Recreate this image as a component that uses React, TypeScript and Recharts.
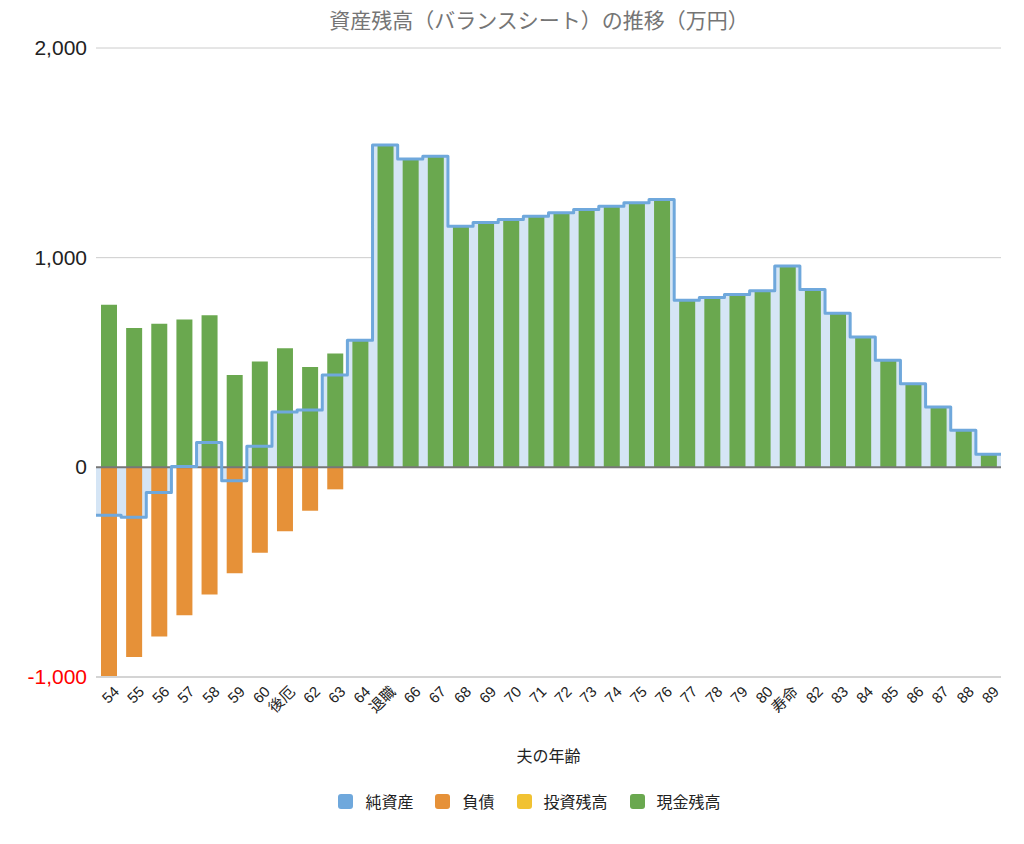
import {
  ComposedChart,
  Bar,
  Area,
  Line,
  XAxis,
  YAxis,
  CartesianGrid,
  ReferenceLine,
  Legend,
} from "recharts";

// 夫の年齢（ラベル）
const ageLabels = [
  "54", "55", "56", "57", "58", "59", "60", "後厄", "62", "63", "64", "退職",
  "66", "67", "68", "69", "70", "71", "72", "73", "74", "75", "76", "77",
  "78", "79", "80", "寿命", "82", "83", "84", "85", "86", "87", "88", "89",
];

// 現金残高（万円）
const cashBalance = [
  775, 665, 685, 705, 725, 440, 505, 568, 478, 543, 606, 1537,
  1470, 1484, 1150, 1168, 1182, 1198, 1214, 1230, 1245, 1262, 1278, 797,
  810, 824, 842, 960, 848, 735, 622, 511, 399, 288, 177, 62,
];

// 負債（万円）
const debtBalance = [
  -1000, -905, -807, -705, -607, -505, -407, -305, -207, -105, 0, 0,
  0, 0, 0, 0, 0, 0, 0, 0, 0, 0, 0, 0,
  0, 0, 0, 0, 0, 0, 0, 0, 0, 0, 0, 0,
];

// 投資残高（万円）
const investBalance = [
  0, 0, 0, 0, 0, 0, 0, 0, 0, 0, 0, 0,
  0, 0, 0, 0, 0, 0, 0, 0, 0, 0, 0, 0,
  0, 0, 0, 0, 0, 0, 0, 0, 0, 0, 0, 0,
];

// 純資産（万円）
const netAssets = [
  -228, -238, -120, 4, 118, -64, 100, 264, 274, 440, 606, 1537,
  1470, 1484, 1150, 1168, 1182, 1198, 1214, 1230, 1245, 1262, 1278, 797,
  810, 824, 842, 960, 848, 735, 622, 511, 399, 288, 177, 62,
];

const yTicks = [-1000, 0, 1000, 2000];

const COLORS = {
  net: "#6fa8dc",
  netFill: "#d5e5f5",
  debt: "#e69138",
  invest: "#f1c232",
  cash: "#6aa84f",
};

const legendItems = [
  { name: "純資産", color: COLORS.net },
  { name: "負債", color: COLORS.debt },
  { name: "投資残高", color: COLORS.invest },
  { name: "現金残高", color: COLORS.cash },
];

const rows = ageLabels.map((age, i) => ({
  age,
  debt: debtBalance[i],
  invest: investBalance[i],
  cash: cashBalance[i],
}));

// 階段線は各年のバンド全体に広がるので、数値軸上の位置 0..36 に置く
const stepRows = netAssets
  .map((net, i) => ({ pos: i, net }))
  .concat([{ pos: netAssets.length, net: netAssets[netAssets.length - 1] }]);

const FONT = "'Liberation Sans', Arial, 'Noto Sans CJK JP', sans-serif";
const JP_FONT = "'Noto Sans CJK JP', 'Liberation Sans', sans-serif";

function YTick({ x, y, payload }: any) {
  const v = payload.value as number;
  return (
    <text
      x={x - 1}
      y={y}
      dy={7}
      textAnchor="end"
      fontSize={21}
      fontFamily={FONT}
      fill={v < 0 ? "#ff0000" : "#222"}
    >
      {v.toLocaleString("en-US")}
    </text>
  );
}

function AgeTick({ x, y, payload }: any) {
  return (
    <g transform={`translate(${x + 8},${y + 4})`}>
      <text
        x={0}
        y={0}
        dy={5}
        textAnchor="end"
        transform="rotate(-45)"
        fontSize={15}
        fontFamily={FONT}
        fill="#222"
      >
        {payload.value}
      </text>
    </g>
  );
}

function LegendContent() {
  return (
    <div
      style={{
        display: "flex",
        justifyContent: "center",
        alignItems: "center",
        height: 24,
        paddingLeft: 35,
        fontFamily: JP_FONT,
        fontSize: 16,
        color: "#222",
      }}
    >
      {legendItems.map((it) => (
        <div key={it.name} style={{ display: "flex", alignItems: "center", margin: "0 11px" }}>
          <span
            style={{
              width: 15,
              height: 15,
              borderRadius: 3,
              background: it.color,
              marginRight: 12,
              display: "inline-block",
            }}
          />
          <span>{it.name}</span>
        </div>
      ))}
    </div>
  );
}

export default function App() {
  return (
    <div style={{ position: "absolute", left: 0, top: 0, width: 1024, height: 844, background: "#fff" }}>
      <div
        style={{
          position: "absolute",
          top: 4,
          left: 0,
          width: 1024,
          paddingLeft: 54,
          boxSizing: "border-box",
          textAlign: "center",
          fontFamily: JP_FONT,
          fontSize: 21,
          color: "#757575",
          zIndex: 1,
        }}
      >
        資産残高（バランスシート）の推移（万円）
      </div>
      <ComposedChart
        width={1024}
        height={844}
        data={rows}
        stackOffset="sign"
        margin={{ top: 48, right: 23, left: 0, bottom: 31 }}
      >
        <CartesianGrid vertical={false} stroke="#cccccc" />
        <XAxis
          dataKey="age"
          interval={0}
          height={112}
          tick={<AgeTick />}
          tickLine={false}
          axisLine={{ stroke: "#d4d4d4", strokeWidth: 2 }}
          label={{
            value: "夫の年齢",
            position: "insideBottom",
            offset: 27,
            fontSize: 16,
            fontFamily: JP_FONT,
            fill: "#222",
          }}
        />
        <XAxis xAxisId="step" type="number" dataKey="pos" domain={[0, 36]} hide allowDataOverflow />
        <YAxis
          width={96}
          domain={[-1000, 2000]}
          ticks={yTicks}
          tick={<YTick />}
          axisLine={false}
          tickLine={false}
        />
        <Area
          xAxisId="step"
          data={stepRows}
          dataKey="net"
          type="stepAfter"
          stroke="none"
          fill={COLORS.netFill}
          fillOpacity={1}
          isAnimationActive={false}
          legendType="none"
        />
        <ReferenceLine y={0} stroke="#777" strokeWidth={2} />
        <Bar dataKey="debt" stackId="bs" fill={COLORS.debt} barSize={16} isAnimationActive={false} />
        <Bar dataKey="invest" stackId="bs" fill={COLORS.invest} barSize={16} isAnimationActive={false} />
        <Bar dataKey="cash" stackId="bs" fill={COLORS.cash} barSize={16} isAnimationActive={false} />
        <Line
          xAxisId="step"
          data={stepRows}
          dataKey="net"
          type="stepAfter"
          stroke={COLORS.net}
          strokeWidth={3}
          strokeLinejoin="round"
          strokeLinecap="round"
          dot={false}
          activeDot={false}
          isAnimationActive={false}
          legendType="none"
        />
        <Legend
          verticalAlign="bottom"
          wrapperStyle={{ left: 0, width: 1024 }}
          content={<LegendContent />}
        />
      </ComposedChart>
    </div>
  );
}
